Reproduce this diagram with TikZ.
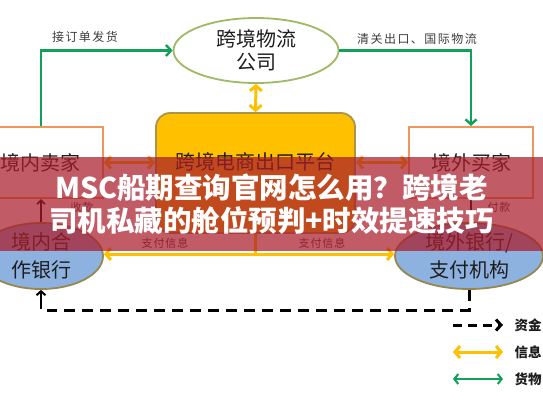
\documentclass[tikz,border=0pt]{standalone}
\usepackage{fontspec}
\setmainfont{Noto Sans CJK SC}
\usetikzlibrary{arrows.meta,shapes.geometric}
\definecolor{grn}{RGB}{16,160,88}
\definecolor{yel}{RGB}{255,192,0}
\definecolor{boxor}{RGB}{240,150,90}
\definecolor{ellgr}{RGB}{160,185,100}
\definecolor{platbd}{RGB}{170,150,70}
\definecolor{bankbl}{RGB}{142,178,224}
\definecolor{bankbd}{RGB}{150,135,80}
\definecolor{txt}{RGB}{30,30,30}
\definecolor{lbltxt}{RGB}{60,60,60}
\definecolor{banner}{RGB}{170,28,42}
\begin{document}
\begin{tikzpicture}[x=1pt,y=-1pt,
  every node/.style={text=txt},
  big/.style={font=\fontsize{20}{23}\selectfont},
  obox/.style={draw=boxor,line width=2pt,fill=white,minimum width=#1,minimum height=71pt,inner sep=0pt},
  bank/.style={ellipse,draw=bankbd,line width=1.8pt,fill=bankbl,inner sep=0pt,minimum height=66pt,align=center,font=\fontsize{20}{28}\selectfont},
  garrow/.style={draw=grn,line width=2.4pt,-{Straight Barb[length=5pt,width=11pt]}},
  yarrow/.style={draw=yel,line width=3pt,{Straight Barb[length=5pt,width=12pt]}-{Straight Barb[length=5pt,width=12pt]}},
  garrow2/.style={draw=grn,line width=2pt,{Straight Barb[length=4pt,width=10pt]}-{Straight Barb[length=4pt,width=10pt]}},
  lbl/.style={text=lbltxt,font=\fontsize{12}{12}\selectfont\addfontfeatures{LetterSpace=12}},
  slbl/.style={text=lbltxt,font=\fontsize{11}{11}\selectfont\addfontfeatures{LetterSpace=8}},
  leg/.style={anchor=west,font=\bfseries\fontsize{13.5}{14}\selectfont},
]
\useasboundingbox (0,0) rectangle (543,408);
\clip (0,0) rectangle (543,408);
\fill[white] (0,0) rectangle (543,408);

% nodes
\node[ellipse,draw=ellgr,line width=1.8pt,fill=white,minimum width=165pt,minimum height=65pt,inner sep=0pt,align=center,big] (tell) at (256,50.5) {跨境物流\\公司};
\node[obox=124pt,big] (lbox) at (41,162.5) {境内卖家};
\node[rounded corners=14pt,draw=platbd,line width=1.8pt,fill=yel,minimum width=199pt,minimum height=120pt,inner sep=0pt] (plat) at (255.5,173) {};
\node[big] (plattxt) at (255.5,162) {跨境电商出口平台};
\node[obox=124pt,big] (rbox) at (471,162.5) {境外买家};
\node[bank,minimum width=124pt] (lbank) at (41,256) {境内合\\作银行};
\node[bank,minimum width=148pt] (rbank) at (469,256) {境外银行/\\支付机构};

% goods flow
\draw[garrow] (lbox.north) |- (tell.west);
\draw[garrow] (tell.east) -| (rbox.north);

% information flow
\draw[yarrow] (tell.south) -- (plat.north);
\draw[yarrow] (lbox.east) -- (lbox.east -| plat.west);
\draw[yarrow] (rbox.west) -- (rbox.west -| plat.east);
\coordinate (ybot) at (255.5,254);
\draw[yel,line width=3pt] (plat.south) -- (ybot);
\draw[yarrow] (ybot -| lbank.east) -- (ybot -| rbank.west);

% money flow
\draw[black,line width=1.6pt,-{Straight Barb[length=4pt,width=8pt]}] (lbank.north) -- (lbox.south);
\draw[black,line width=1.6pt] (rbox.south) -- (rbox.south |- rbank.north);
\coordinate (d1) at (469,310);
\coordinate (d2) at (47,310);
\coordinate (d3) at (41,309);
\draw[black,line width=3pt,dash pattern=on 11pt off 7pt] (rbank.south) -- (d1) -- (d2);
\draw[black,line width=2pt,-{Straight Barb[length=4pt,width=9pt]}] (d3) -- (lbank.south);

% labels
\node[lbl] (l1) at (85,37) {接订单发货};
\node[lbl] (l2) at (417,39) {清关出口、国际物流};
\node[slbl] (l3) at (165,243) {支付信息};
\node[slbl] (l4) at (322,243) {支付信息};
\node[slbl] (l5) at (82,207) {收款};
\node[slbl] (l6) at (499,207) {付款};

% legend
\coordinate (g1a) at (453,325);
\coordinate (g1b) at (503,325);
\coordinate (g2a) at (453,352);
\coordinate (g2b) at (503,352);
\coordinate (g3a) at (453,379);
\coordinate (g3b) at (503,379);
\draw[black,line width=3pt,dash pattern=on 9pt off 6pt,-{Straight Barb[length=5pt,width=11pt]}] (g1a) -- (g1b);
\node[leg] (t1) at (511,325) {资金};
\draw[yarrow] (g2a) -- (g2b);
\node[leg] (t2) at (511,352) {信息};
\draw[garrow2] (g3a) -- (g3b);
\node[leg] (t3) at (511,379) {货物};

% banner
\fill[banner,fill opacity=0.72] (0,157) rectangle (543,251);
\node[text=white,font=\bfseries\fontsize{28.5}{33}\selectfont,align=center] (title) at (271.5,204.5) {MSC船期查询官网怎么用？跨境老\\司机私藏的舱位预判+时效提速技巧};
\end{tikzpicture}
\end{document}
